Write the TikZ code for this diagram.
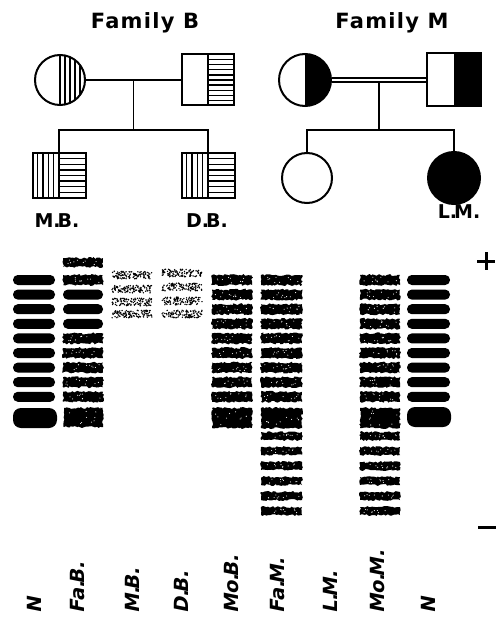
\documentclass[tikz,border=0pt]{standalone}
\usepackage{fontspec}
\setmainfont{DejaVu Sans}
\newfontfamily\titlefont[BoldFeatures={LetterSpace=6}]{DejaVu Sans}
\newfontfamily\pedfont{DejaVu Sans}
\newfontfamily\lanefont[BoldFeatures={FakeSlant=0.2}]{DejaVu Sans}
\usetikzlibrary{calc,decorations.pathmorphing}
\newcommand\solidband[5]{\fill[rounded corners=#5] (#1,#2) rectangle (#3,#4);}
\newcommand\roughband[4]{\fill[decorate,decoration={random steps,segment length=1.8pt,amplitude=1pt}] (#1,#2) rectangle (#3,#4);
  \foreach \k in {1,...,9}{\fill[white] ({(#1)+3+((#3)-(#1)-6)*rnd},{(#2)+2+((#4)-(#2)-4)*rnd}) circle (0.55);}}
\newcommand\lightband[4]{\foreach \k in {1,...,110}{\fill ({(#1)+((#3)-(#1))*rnd},{(#2)+((#4)-(#2))*rnd}) circle (0.8);}}
\newcommand\dotk{.\kern-3pt}
\newcommand\dotl{.\kern-3.5pt}
\begin{document}
\begin{tikzpicture}[x=1pt,y=-1pt,
  ped/.style={draw,line width=2pt,inner sep=0pt},
  fem/.style={ped,circle,minimum size=#1},
  fem/.default=50pt,
  mal/.style={ped,rectangle,minimum width=52pt,minimum height=51pt},
  kid/.style={ped,rectangle,minimum width=53pt,minimum height=45pt},
  link/.style={line width=1.9pt},
  consang/.style={line width=1.6pt,double,double distance=2.6pt},
  halfV/.style={path picture={
    \draw[line width=1.6pt] (path picture bounding box.north) -- (path picture bounding box.south);
    \foreach \i in {1,...,4}{\draw[line width=1.3pt] ($(path picture bounding box.north)!\i/5!(path picture bounding box.north east)$) -- ($(path picture bounding box.south)!\i/5!(path picture bounding box.south east)$);}}},
  halfH/.style={path picture={
    \draw[line width=1.6pt] (path picture bounding box.north) -- (path picture bounding box.south);
    \foreach \i in {1,...,9}{\draw[line width=1.3pt] ($(path picture bounding box.north)!\i/10!(path picture bounding box.south)$) -- ($(path picture bounding box.north east)!\i/10!(path picture bounding box.south east)$);}}},
  kidfill/.style={path picture={
    \draw[line width=1.6pt] (path picture bounding box.north) -- (path picture bounding box.south);
    \foreach \i in {1,...,4}{\draw[line width=1.3pt] ($(path picture bounding box.north west)!\i/5!(path picture bounding box.north)$) -- ($(path picture bounding box.south west)!\i/5!(path picture bounding box.south)$);}
    \foreach \i in {1,...,7}{\draw[line width=1.3pt] ($(path picture bounding box.north)!\i/8!(path picture bounding box.south)$) -- ($(path picture bounding box.north east)!\i/8!(path picture bounding box.south east)$);}}},
  halfblack/.style={path picture={\fill (path picture bounding box.north) rectangle (path picture bounding box.south east);}},
  titlestyle/.style={inner sep=0pt,font=\titlefont\bfseries\fontsize{21}{24}\selectfont},
  pedlabel/.style={inner sep=0pt,font=\pedfont\bfseries\fontsize{19}{22}\selectfont},
  lanelabel/.style={inner sep=0pt,rotate=90,anchor=mid west,font=\lanefont\bfseries\fontsize{19.5}{22}\selectfont}
]
\useasboundingbox (0,0) rectangle (496,620);
\fill[white] (0,0) rectangle (496,620);
\pgfmathsetseed{7}

% ---- Family B ----
\node[titlestyle] (tB) at (145,23) {Family B};
\node[fem,halfV] (fB) at (60,80) {};
\node[mal,halfH] (mB) at (208,80) {};
\node[kid,kidfill] (kMB) at (59,175.5) {};
\node[kid,kidfill] (kDB) at (208,175.5) {};
\draw[link] (fB.east) -- (mB.west);
\coordinate (jB) at ($(fB.east)!0.5!(mB.west)$);
\coordinate (sB) at ($(jB)+(0,50)$);
\draw[link] (jB) -- (sB);
\draw[link] (kMB.north) |- (sB) -| (kDB.north);
\node[pedlabel] (lMB) at (57,220.5) {M\dotk B.};
\node[pedlabel] (lDB) at (207,220.5) {D\dotk B.};

% ---- Family M ----
\node[titlestyle] (tM) at (392,23) {Family M};
\node[fem=52pt,halfblack] (fM) at (305,80) {};
\node[mal,halfblack,minimum width=54pt,minimum height=53pt] (mM) at (454,80) {};
\node[fem] (kM1) at (307,178) {};
\node[fem=52pt,fill=black] (kLM) at (454,178) {};
\draw[consang] (fM.east) -- (mM.west);
\coordinate (jM) at ($(fM.east)!0.5!(mM.west)+(0,3)$);
\coordinate (sM) at ($(fM.east)!0.5!(mM.west)+(0,50)$);
\draw[link] (jM) -- (sM);
\draw[link] (kM1.north) |- (sM) -| (kLM.north);
\node[pedlabel] (lLM) at (459,212) {L\dotk M.};

% ---- Gel ----
\foreach \k in {0,...,8}{
  \pgfmathsetmacro\yc{280+14.6*\k}
  \solidband{13}{\yc-5}{55}{\yc+5}{4.8pt}
  \solidband{407}{\yc-5}{450}{\yc+5}{4.8pt}
}
\solidband{13}{408}{57}{428}{8pt}
\solidband{407}{407}{451}{427}{8pt}
\roughband{63}{258}{103}{267}
\roughband{63}{275}{103}{285}
\foreach \k in {1,2,3}{
  \pgfmathsetmacro\yc{280+14.6*\k}
  \solidband{63}{\yc-5}{103}{\yc+5}{4.8pt}
}
\foreach \k in {4,...,8}{
  \pgfmathsetmacro\yc{280+14.6*\k}
  \roughband{63}{\yc-5}{103}{\yc+5}
}
\roughband{64}{408}{103}{427}
\foreach \yc in {275,289,302,314}{\lightband{112}{\yc-3.8}{152}{\yc+3.8}}
\foreach \yc in {273,287,301,314}{\lightband{162}{\yc-3.8}{202}{\yc+3.8}}
\foreach \xa/\xb in {212/252,261/302,360/400}{
  \foreach \k in {0,...,8}{
    \pgfmathsetmacro\yc{280+14.6*\k}
    \roughband{\xa}{\yc-5}{\xb}{\yc+5}
  }
  \roughband{\xa}{408}{\xb}{428}
}
\foreach \xa/\xb in {261/302,360/400}{
  \foreach \j in {0,...,5}{
    \pgfmathsetmacro\yc{436+15*\j}
    \roughband{\xa}{\yc-4}{\xb}{\yc+4}
  }
}
\draw[line width=3pt] (477,261) -- (495,261);
\draw[line width=3pt] (486,252) -- (486,270);
\draw[line width=3pt] (478,527) -- (496,527);

\node[lanelabel] (n1) at (39,614) {N};
\node[lanelabel] (n2) at (82,614) {Fa\dotl B.};
\node[lanelabel] (n3) at (137,614) {M\dotl B.};
\node[lanelabel] (n4) at (186,614) {D\dotl B.};
\node[lanelabel] (n5) at (236,614) {Mo\dotl B.};
\node[lanelabel] (n6) at (282,614) {Fa\dotl M.};
\node[lanelabel] (n7) at (335,614) {L\dotl M.};
\node[lanelabel] (n8) at (382,614) {Mo\dotl M.};
\node[lanelabel] (n9) at (433,614) {N};
\end{tikzpicture}
\end{document}
